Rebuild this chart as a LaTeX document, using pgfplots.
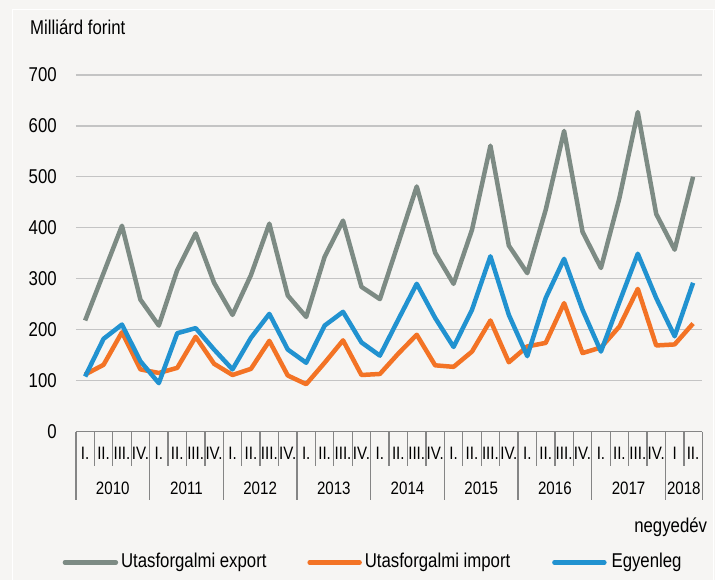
\documentclass[border=0pt]{standalone}
\usepackage{fontspec}
\setmainfont{Liberation Sans}[FakeStretch=0.84]
\usepackage{pgfplots}
\pgfplotsset{compat=1.18}
\usepackage{pgfplotstable}
\definecolor{bgc}{HTML}{F6F5F3}
\definecolor{cexp}{HTML}{7D8B84}
\definecolor{cimp}{HTML}{F37325}
\definecolor{cbal}{HTML}{2192D0}
\definecolor{gridc}{HTML}{C4C4C4}
\definecolor{axc}{HTML}{858585}
\newcommand\fs[1]{\fontsize{#1}{#1}\selectfont}
\pgfplotstableread{
x exp imp bal
0 218 112 108
1 311 131 182
2 404 195 210
3 259 122 138
4 208 115 95
5 317 125 193
6 389 186 203
7 292 133 161
8 229 111 122
9 307 123 184
10 408 178 231
11 267 110 161
12 225 93 135
13 343 135 208
14 414 179 235
15 284 111 175
16 260 113 149
17 370 153 220
18 481 190 290
19 351 130 223
20 290 127 166
21 396 157 239
22 561 218 344
23 365 136 229
24 311 167 148
25 435 174 262
26 590 252 339
27 392 154 239
28 321 165 157
29 458 206 254
30 627 280 349
31 427 169 262
32 357 171 187
33 500 212 292
}\data
\begin{document}
\begin{tikzpicture}[x=1bp,y=1bp]
\fill[bgc] (-76,-149) rectangle (640,432);
\draw[white,line width=1.5bp] (-63.5,-149) -- (-63.5,422.5) -- (640,422.5);
\draw[white,line width=1.5bp] (638,422.5) -- (638,-149);
\begin{axis}[
  at={(0,0)}, anchor=south west,
  scale only axis, width=627bp, height=357bp,
  xmin=-0.5, xmax=33.5, ymin=0, ymax=700,
  ytick={0,100,...,700},
  xtick={0,...,33},
  xticklabels={I.,II.,III.,IV.,I.,II.,III.,IV.,I.,II.,III.,IV.,I.,II.,III.,IV.,I.,II.,III.,IV.,I.,II.,III.,IV.,I.,II.,III.,IV.,I.,II.,III.,IV.,I,II.},
  major tick length=0pt,
  axis line style={draw=none},
  ymajorgrids, grid style={gridc, line width=1.3bp},
  /pgf/number format/assume math mode=true,
  yticklabel style={font=\fs{20bp}, anchor=east, inner sep=0pt, xshift=-19bp},
  xticklabel style={font=\fs{18bp}, anchor=center, inner sep=0pt, yshift=-22bp},
  clip=false,
]
\draw[axc, line width=1.5bp] (axis cs:-0.5,0) -- (axis cs:33.5,0);
\pgfplotsinvokeforeach{0.5,1.5,...,32.5}{
  \draw[axc, line width=1.3bp] (axis cs:#1,0) -- ++(0bp,-34bp);
}
\pgfplotsinvokeforeach{-0.5,3.5,7.5,11.5,15.5,19.5,23.5,27.5,31.5,33.5}{
  \draw[axc, line width=1.3bp] (axis cs:#1,0) -- ++(0bp,-69bp);
}
\node[font=\fs{18bp}, inner sep=0pt] at ([yshift=-57bp]axis cs:1.5,0) {2010};
\node[font=\fs{18bp}, inner sep=0pt] at ([yshift=-57bp]axis cs:5.5,0) {2011};
\node[font=\fs{18bp}, inner sep=0pt] at ([yshift=-57bp]axis cs:9.5,0) {2012};
\node[font=\fs{18bp}, inner sep=0pt] at ([yshift=-57bp]axis cs:13.5,0) {2013};
\node[font=\fs{18bp}, inner sep=0pt] at ([yshift=-57bp]axis cs:17.5,0) {2014};
\node[font=\fs{18bp}, inner sep=0pt] at ([yshift=-57bp]axis cs:21.5,0) {2015};
\node[font=\fs{18bp}, inner sep=0pt] at ([yshift=-57bp]axis cs:25.5,0) {2016};
\node[font=\fs{18bp}, inner sep=0pt] at ([yshift=-57bp]axis cs:29.5,0) {2017};
\node[font=\fs{18bp}, inner sep=0pt] at ([yshift=-57bp]axis cs:32.5,0) {2018};
\addplot[cexp, line width=4.5bp, line join=round] table[x=x,y=exp]{\data};
\addplot[cimp, line width=4.5bp, line join=round] table[x=x,y=imp]{\data};
\addplot[cbal, line width=4.5bp, line join=round] table[x=x,y=bal]{\data};
\end{axis}
\node[font=\fs{20bp}, anchor=west, inner sep=0pt] at (-46,405) {Milliárd forint};
\node[font=\fs{20bp}, anchor=east, inner sep=0pt] at (632,-96) {negyedév};
\draw[cexp, line width=4.5bp, line cap=round] (-11,-131) -- (40,-131);
\node[font=\fs{20bp}, anchor=west, inner sep=0pt] at (45,-131) {Utasforgalmi export};
\draw[cimp, line width=4.5bp, line cap=round] (234,-131) -- (284,-131);
\node[font=\fs{20bp}, anchor=west, inner sep=0pt] at (289,-131) {Utasforgalmi import};
\draw[cbal, line width=4.5bp, line cap=round] (479,-131) -- (529,-131);
\node[font=\fs{20bp}, anchor=west, inner sep=0pt] at (536,-131) {Egyenleg};
\end{tikzpicture}
\end{document}
